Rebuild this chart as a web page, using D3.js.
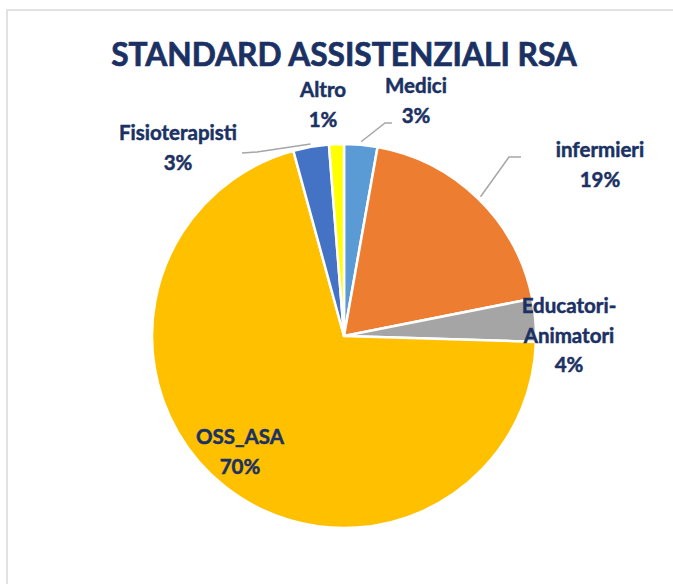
<!DOCTYPE html>
<html>
<head>
<meta charset="utf-8">
<script src="https://cdn.jsdelivr.net/npm/d3@7"></script>
<style>
  body { margin: 0; background: #fff; }
  svg { display: block; }
  text { font-family: Lato, "Open Sans", sans-serif; font-weight: bold; }
</style>
</head>
<body>
<svg id="pie_viz" width="673" height="584"></svg>
<script>
// data (percent of staff hours)
var categories = ["Medici", "infermieri", "Educatori-Animatori", "OSS_ASA", "Fisioterapisti", "Altro"];
var values     = [2.8, 19.1, 3.6, 70.3, 3.0, 1.25];
var colors     = ["#5B9BD5", "#ED7D31", "#A5A5A5", "#FFC000", "#4472C4", "#FFFF00"];
// label text lines (name split the way the chart shows it)
var labelLines = [["Medici"], ["infermieri"], ["Educatori-", "Animatori"], ["OSS_ASA"], ["Fisioterapisti"], ["Altro"]];

var svg = d3.select("#pie_viz"),
    width = +svg.attr("width"),
    height = +svg.attr("height");

var navy = "#1B3163";

// chart frame (only left and top edge fall inside the picture)
svg.append("rect")
    .attr("x", 7).attr("y", 10)
    .attr("width", 700).attr("height", 600)
    .attr("fill", "none")
    .attr("stroke", "#D9D9D9")
    .attr("stroke-width", 1.5);

// title, fitted to the width it has in the chart
var title = svg.append("text")
    .attr("x", 344).attr("y", 66)
    .attr("text-anchor", "middle")
    .attr("fill", navy)
    .attr("stroke", navy)
    .attr("stroke-width", 0.7)
    .attr("font-size", 32)
    .text("STANDARD ASSISTENZIALI RSA");
var tw = title.node().getComputedTextLength();
title.attr("font-size", 32 * 466 / tw);

// %%%%%%%%%%%%%%%%%%%%
// % Pie              %
// %%%%%%%%%%%%%%%%%%%%
var cx = 344, cy = 336, R = 192;
var total = d3.sum(values);

var pie = d3.pie().sort(null).value(function (d) { return d; });
var arcs = pie(values);
var arc = d3.arc().innerRadius(0).outerRadius(R);

var g = svg.append("g").attr("transform", "translate(" + cx + "," + cy + ")");

g.selectAll("path")
    .data(arcs)
    .enter()
    .append("path")
    .attr("d", arc)
    .attr("fill", function (d, i) { return colors[i]; })
    .attr("stroke", "#fff")
    .attr("stroke-width", 2.5)
    .attr("stroke-linejoin", "round");

// label placement (layout, set by hand in the original chart)
var labelPos = [
    { x: 416, y: 93 },
    { x: 600, y: 157 },
    { x: 569, y: 313 },
    { x: 240, y: 444 },
    { x: 178, y: 140 },
    { x: 323, y: 97 }
];
// leader lines: elbow + end, start comes from the slice edge
var leaders = [
    { i: 0, elbow: [385, 123], end: [392, 123] },
    { i: 1, elbow: [509, 157], end: [521, 157] },
    { i: 4, elbow: [257, 152], end: [242, 153] }
];

var lineH = 29.5;

leaders.forEach(function (l) {
    var a = arcs[l.i];
    var mid = (a.startAngle + a.endAngle) / 2;
    var p0 = [cx + (R + 3) * Math.sin(mid), cy - (R + 3) * Math.cos(mid)];
    svg.append("polyline")
        .attr("points", [p0, l.elbow, l.end].map(function (p) { return p.join(","); }).join(" "))
        .attr("fill", "none")
        .attr("stroke", "#A6A6A6")
        .attr("stroke-width", 1.5);
});

var labels = svg.append("g").attr("class", "labels");
arcs.forEach(function (a, i) {
    var lines = labelLines[i].concat([Math.round(values[i] / total * 100) + "%"]);
    var t = labels.append("text")
        .attr("text-anchor", "middle")
        .attr("fill", navy)
        .attr("stroke", navy)
        .attr("stroke-width", 0.5)
        .attr("font-size", 20.5);
    lines.forEach(function (s, k) {
        t.append("tspan")
            .attr("x", labelPos[i].x)
            .attr("y", labelPos[i].y + k * lineH)
            .text(s);
    });
});
</script>
</body>
</html>
